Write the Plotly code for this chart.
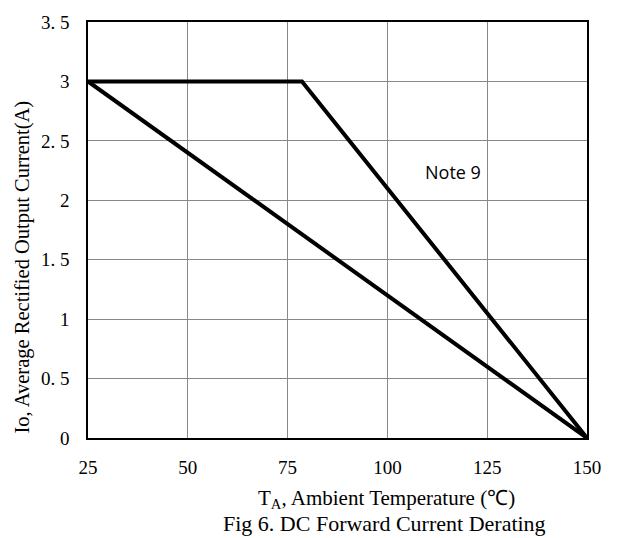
import plotly.graph_objects as go

# Data
temp_note9 = [25, 78.6, 150]
io_note9 = [3, 3, 0]
temp_base = [25, 150]
io_base = [3, 0]

x_ticks = [25, 50, 75, 100, 125, 150]
y_ticks = [0, 0.5, 1, 1.5, 2, 2.5, 3, 3.5]
y_ticktext = ["0", "0. 5", "1", "1. 5", "2", "2. 5", "3", "3. 5"]

serif = "Liberation Serif, Times New Roman, serif"

fig = go.Figure()
fig.add_trace(go.Scatter(x=temp_note9, y=io_note9, mode="lines",
                         line=dict(color="black", width=4), showlegend=False))
fig.add_trace(go.Scatter(x=temp_base, y=io_base, mode="lines",
                         line=dict(color="black", width=4), showlegend=False))

fig.add_annotation(x=116.5, y=2.24, text="Note 9", showarrow=False,
                   font=dict(family="Open Sans, Noto Sans, sans-serif", size=18, color="black"))

fig.add_annotation(xref="paper", yref="paper", x=(386 - 88) / 499, y=-(500 - 438) / 422,
                   text="T<sub>A</sub>, Ambient Temperature (℃)", showarrow=False,
                   xanchor="center", yanchor="middle",
                   font=dict(family=serif, size=21, color="black"))
fig.add_annotation(xref="paper", yref="paper", x=(384 - 88) / 499, y=-(525 - 438) / 422,
                   text="Fig 6. DC Forward Current Derating", showarrow=False,
                   xanchor="center", yanchor="middle",
                   font=dict(family=serif, size=22, color="black"))
fig.add_annotation(xref="paper", yref="paper", x=-(88 - 22) / 499, y=(438 - 265) / 422,
                   text="Io, Average Rectified Output Current(A)", showarrow=False,
                   textangle=-90, xanchor="center", yanchor="middle",
                   font=dict(family=serif, size=20.5, color="black"))

fig.update_xaxes(range=[25, 150], tickvals=x_ticks, showgrid=True, gridcolor="#888888",
                 gridwidth=1, showline=True, linecolor="black", linewidth=1.5, mirror=True,
                 zeroline=False, ticks="", ticklabelstandoff=11,
                 tickfont=dict(family=serif, size=19, color="black"))
fig.update_yaxes(range=[0, 3.5], tickvals=y_ticks, ticktext=y_ticktext, showgrid=True,
                 gridcolor="#888888", gridwidth=1, showline=True, linecolor="black",
                 linewidth=1.5, mirror=True, zeroline=False, ticks="", ticklabelstandoff=13,
                 tickfont=dict(family=serif, size=19, color="black"))

fig.update_layout(width=620, height=538, margin=dict(l=88, r=33, t=16, b=100),
                  plot_bgcolor="white", paper_bgcolor="white")

fig.write_html("out.html")
